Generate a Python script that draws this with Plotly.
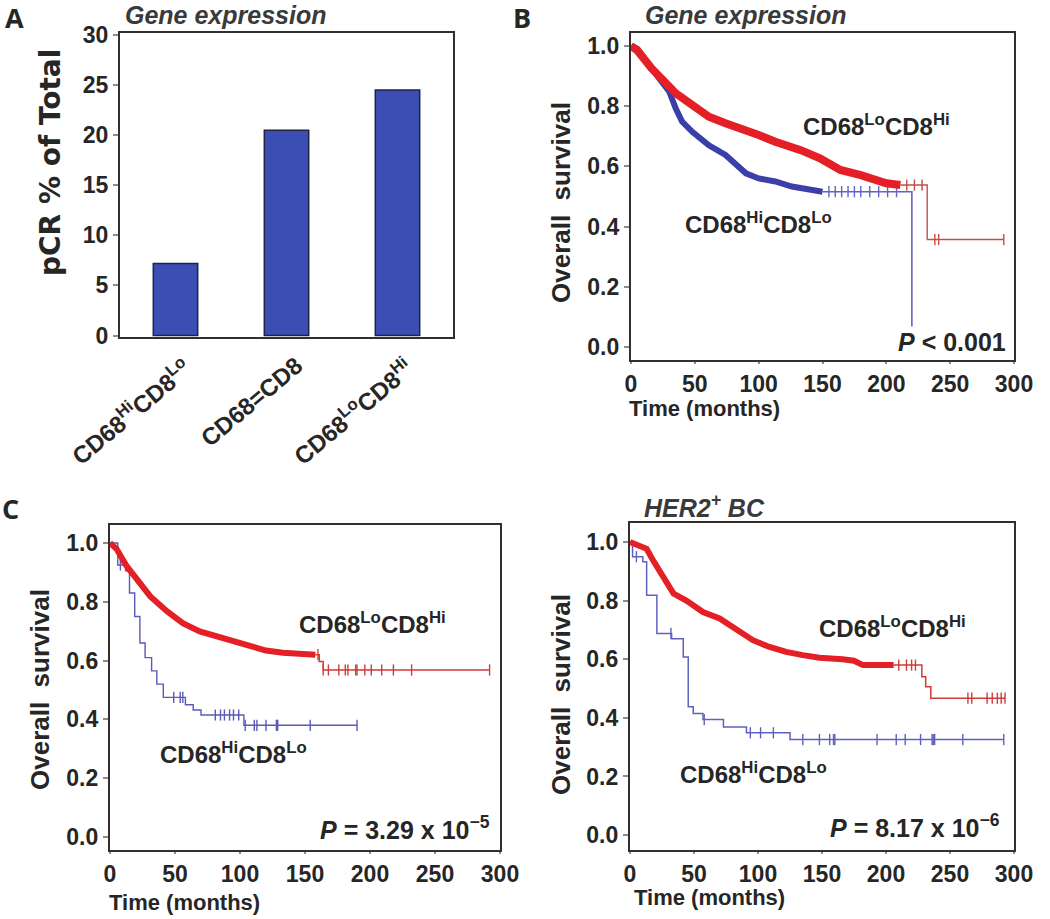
import plotly.graph_objects as go

W, H = 1050, 919

# ---------------- Panel A : pCR bars ----------------
bar_categories = ["CD68<sup>Hi</sup>CD8<sup>Lo</sup>", "CD68=CD8", "CD68<sup>Lo</sup>CD8<sup>Hi</sup>"]
bar_pcr_pct = [7.2, 20.5, 24.5]

# ---------------- Panel B : gene expression, KM ----------------
b_lohi_dense_t = [0, 5, 16, 24, 35, 48, 61, 74, 87, 100, 113, 126, 133, 148, 164, 180, 190, 200, 211]
b_lohi_dense_s = [1.0, 0.985, 0.926, 0.893, 0.843, 0.804, 0.765, 0.743, 0.72, 0.704, 0.682, 0.666,
                  0.654, 0.627, 0.588, 0.571, 0.555, 0.544, 0.538]
b_lohi_step_t = [211, 232, 292]
b_lohi_step_s = [0.538, 0.357, 0.357]
b_lohi_censor_t = [216, 222, 228, 238, 241, 292]

b_hilo_dense_t = [0, 5, 16, 24, 30, 35, 40, 48, 61, 74, 82, 90, 100, 113, 126, 139, 150]
b_hilo_dense_s = [1.0, 0.99, 0.926, 0.88, 0.848, 0.793, 0.749, 0.715, 0.67, 0.638, 0.605, 0.577,
                  0.56, 0.55, 0.533, 0.522, 0.516]
b_hilo_step_t = [150, 220]
b_hilo_step_s = [0.516, 0.0]
b_hilo_censor_t = [155, 160, 165, 170, 175, 180, 187, 194, 201, 208]

# ---------------- Panel C left ----------------
cl_lohi_dense_t = [0, 5, 13, 23, 31, 44, 56, 69, 82, 95, 108, 120, 133, 146, 158]
cl_lohi_dense_s = [1.0, 0.98, 0.92, 0.864, 0.818, 0.767, 0.727, 0.699, 0.682, 0.67, 0.653, 0.634,
                   0.627, 0.625, 0.62]
cl_lohi_step_t = [158, 161, 164, 292]
cl_lohi_step_s = [0.62, 0.597, 0.568, 0.568]
cl_lohi_censor_t = [160, 164, 168, 176, 181, 183, 189, 190, 196, 201, 209, 218, 232, 292]

cl_hilo_step_t = [0, 6, 12, 15, 19, 23, 27, 32, 36, 41, 58, 64, 70, 103, 190]
cl_hilo_step_s = [1.0, 0.925, 0.905, 0.83, 0.75, 0.66, 0.61, 0.565, 0.52, 0.475, 0.45, 0.432,
                  0.415, 0.38, 0.38]
cl_hilo_censor_t = [8, 49, 54, 56, 81, 85, 88, 92, 95, 99, 104, 111, 113, 120, 128, 129, 154, 190]

# ---------------- Panel C right (HER2+ BC) ----------------
cr_lohi_dense_t = [0, 13, 18, 26, 34, 44, 57, 70, 83, 96, 109, 122, 135, 148, 166, 175, 182, 206]
cr_lohi_dense_s = [1.0, 0.977, 0.9375, 0.88, 0.824, 0.80, 0.761, 0.739, 0.699, 0.665, 0.642, 0.625,
                   0.614, 0.605, 0.60, 0.595, 0.58, 0.58]
cr_lohi_step_t = [206, 228, 231, 235, 293]
cr_lohi_step_s = [0.58, 0.54, 0.506, 0.467, 0.467]
cr_lohi_censor_t = [210, 216, 220, 223, 264, 267, 279, 283, 287, 290, 293]

cr_hilo_step_t = [0, 2, 10, 13, 21, 32.5, 41.6, 45.5, 49.4, 57, 73, 91, 125, 292]
cr_hilo_step_s = [1.0, 0.95, 0.933, 0.818, 0.688, 0.67, 0.608, 0.438, 0.415, 0.394, 0.369, 0.349,
                  0.326, 0.326]
cr_hilo_censor_t = [5, 32, 58, 94, 102, 112, 135, 148, 156, 159, 160, 193, 208, 215, 227, 236,
                    237, 238, 260, 292]

# ---------------- style ----------------
RED = "#e41f26"
RED_THIN = "#cf3a3a"
BLUE = "#3b3fa8"
BLUE_THIN = "#6464c4"
FRAME = "#342e2e"
TXT = "#262626"
FONT = "Liberation Sans, Arial, sans-serif"


def X(px):
    return px / W


def Y(py):
    return 1 - py / H


def step_at(ts, ss, t):
    v = ss[0]
    for ti, si in zip(ts, ss):
        if ti <= t:
            v = si
        else:
            break
    return v


fig = go.Figure()

# Panel A bars
fig.add_trace(go.Bar(x=bar_categories, y=bar_pcr_pct, width=0.4,
                     marker=dict(color="#3c4db4", line=dict(color="#1f2444", width=1.5)),
                     xaxis="x", yaxis="y", showlegend=False))


def km(dense_t, dense_s, step_t, step_s, censor_t, color_dense, color_thin, w_dense,
       w_thin, ax):
    if dense_t:
        fig.add_trace(go.Scatter(x=dense_t, y=dense_s, mode="lines",
                                 line=dict(color=color_dense, width=w_dense),
                                 xaxis="x" + ax, yaxis="y" + ax, showlegend=False))
    fig.add_trace(go.Scatter(x=step_t, y=step_s, mode="lines",
                             line=dict(color=color_thin, width=w_thin, shape="hv"),
                             xaxis="x" + ax, yaxis="y" + ax, showlegend=False))
    cy = [step_at(step_t, step_s, t) for t in censor_t]
    fig.add_trace(go.Scatter(x=censor_t, y=cy, mode="markers",
                             marker=dict(symbol="line-ns", size=8,
                                         line=dict(color=color_thin, width=1.4)),
                             xaxis="x" + ax, yaxis="y" + ax, showlegend=False))


# Panel B
km(b_hilo_dense_t, b_hilo_dense_s, b_hilo_step_t, b_hilo_step_s, b_hilo_censor_t,
   BLUE, BLUE_THIN, 6, 1.6, "2")
km(b_lohi_dense_t, b_lohi_dense_s, b_lohi_step_t, b_lohi_step_s, b_lohi_censor_t,
   RED, "#c0504a", 8, 1.4, "2")
# Panel C left
km([], [], cl_hilo_step_t, cl_hilo_step_s, cl_hilo_censor_t, BLUE, "#5a5ab8", 2, 1.4, "3")
km(cl_lohi_dense_t, cl_lohi_dense_s, cl_lohi_step_t, cl_lohi_step_s, cl_lohi_censor_t,
   RED, RED_THIN, 6, 1.5, "3")
# Panel C right
km([], [], cr_hilo_step_t, cr_hilo_step_s, cr_hilo_censor_t, BLUE, "#6060c0", 2, 1.5, "4")
km(cr_lohi_dense_t, cr_lohi_dense_s, cr_lohi_step_t, cr_lohi_step_s, cr_lohi_censor_t,
   RED, RED_THIN, 6, 1.5, "4")

tickfont = dict(family=FONT, size=23, color=TXT, weight="bold")
base = dict(showline=True, mirror=True, linecolor=FRAME, linewidth=2.2, showgrid=False,
            zeroline=False, ticks="outside", ticklen=5, tickwidth=1.5, tickcolor="#8c8c8c",
            tickfont=tickfont, fixedrange=True, automargin=False)
xbase = dict(base, ticklen=2)

surv_ticks = [0.0, 0.2, 0.4, 0.6, 0.8, 1.0]
time_ticks = [0, 50, 100, 150, 200, 250, 300]

fig.update_layout(
    width=W, height=H, margin=dict(l=0, r=0, t=0, b=0, autoexpand=False),
    paper_bgcolor="white", plot_bgcolor="white",
    xaxis=dict(base, domain=[X(120), X(453)], type="category", categoryorder="array",
               categoryarray=bar_categories, range=[-0.5, 2.5], ticks="",
               showticklabels=False, anchor="y"),
    yaxis=dict(base, domain=[Y(337), Y(33)], range=[-0.15, 30.2], tickvals=[0, 5, 10, 15, 20, 25, 30],
               anchor="x"),
    xaxis2=dict(xbase, domain=[X(631), X(1014)], range=[0, 300], tickvals=time_ticks, anchor="y2"),
    yaxis2=dict(base, domain=[Y(360), Y(33)], range=[-0.043, 1.043], tickvals=surv_ticks,
                tickformat=".1f", anchor="x2"),
    xaxis3=dict(xbase, domain=[X(110), X(500)], range=[0, 300], tickvals=time_ticks, anchor="y3"),
    yaxis3=dict(base, domain=[Y(850), Y(525)], range=[-0.044, 1.061], tickvals=surv_ticks,
                tickformat=".1f", anchor="x3"),
    xaxis4=dict(xbase, domain=[X(630), X(1014)], range=[0, 300], tickvals=time_ticks, anchor="y4"),
    yaxis4=dict(base, domain=[Y(850), Y(523)], range=[-0.051, 1.065], tickvals=surv_ticks,
                tickformat=".1f", anchor="x4"),
)

ann = []


def paper_text(text, px, py, size, xanchor="center", angle=0, italic=False, bold=True,
               family=FONT, color=TXT):
    ann.append(dict(text=text, x=X(px), y=Y(py), xref="paper", yref="paper", showarrow=False,
                    xanchor=xanchor, yanchor="middle", textangle=angle,
                    font=dict(family=family, size=size, color=color,
                              weight="bold" if bold else "normal",
                              style="italic" if italic else "normal")))


def data_text(text, x, y, ax, size, xanchor="left", bg=None):
    d = dict(text=text, x=x, y=y, xref="x" + ax, yref="y" + ax, showarrow=False,
             xanchor=xanchor, yanchor="middle",
             font=dict(family=FONT, size=size, color=TXT, weight="bold"))
    if bg:
        d["bgcolor"] = bg
    ann.append(d)


# rotated category labels of panel A (text of the category axis)
for i, cat in enumerate(bar_categories):
    ann.append(dict(text=cat, x=i, xref="x", y=Y(349), yref="paper", showarrow=False,
                    xanchor="right", yanchor="top", textangle=-40, xshift=24,
                    font=dict(family=FONT, size=24, color=TXT, weight="bold")))

# panel letters
paper_text("A", 14, 18, 27, family="Open Sans, sans-serif")
paper_text("B", 522, 18, 27, family="Open Sans, sans-serif")
paper_text("C", 10, 508, 27, family="Open Sans, sans-serif")

# panel titles
paper_text("Gene expression", 123, 15, 25, xanchor="left", italic=True, color="#3a3a3a")
paper_text("Gene expression", 643, 15, 25, xanchor="left", italic=True, color="#3a3a3a")
paper_text("HER2<sup>+</sup> BC", 642, 506, 25, xanchor="left", italic=True, color="#3a3a3a")

# axis titles
paper_text("pCR % of Total", 50, 163, 28, angle=-90, family="DejaVu Sans, sans-serif")
paper_text("Overall&nbsp; survival", 561, 203, 26, angle=-90)
paper_text("Overall&nbsp; survival", 40, 690, 26, angle=-90)
paper_text("Overall&nbsp; survival", 561, 695, 26, angle=-90)
paper_text("Time (months)", 627, 409, 22, xanchor="left")
paper_text("Time (months)", 107, 902, 22, xanchor="left")
paper_text("Time (months)", 632, 897, 22, xanchor="left")

# curve labels
data_text("CD68<sup>Lo</sup>CD8<sup>Hi</sup>", 133, 0.738, "2", 24)
data_text("CD68<sup>Hi</sup>CD8<sup>Lo</sup>", 41, 0.412, "2", 24)
data_text("<i>P</i> &lt; 0.001", 295, 0.016, "2", 25, xanchor="right", bg="white")

data_text("CD68<sup>Lo</sup>CD8<sup>Hi</sup>", 144, 0.728, "3", 24)
data_text("CD68<sup>Hi</sup>CD8<sup>Lo</sup>", 37, 0.286, "3", 24)
data_text("<i>P</i> = 3.29 x 10<sup>−5</sup>", 294, 0.03, "3", 25, xanchor="right")

data_text("CD68<sup>Lo</sup>CD8<sup>Hi</sup>", 146, 0.71, "4", 24)
data_text("CD68<sup>Hi</sup>CD8<sup>Lo</sup>", 37.5, 0.212, "4", 24)
data_text("<i>P</i> = 8.17 x 10<sup>−6</sup>", 291, 0.03, "4", 25, xanchor="right")

fig.update_layout(annotations=ann)

fig.write_html("out.html", config={"displayModeBar": False},
               post_script="document.body.style.margin='0px';")
